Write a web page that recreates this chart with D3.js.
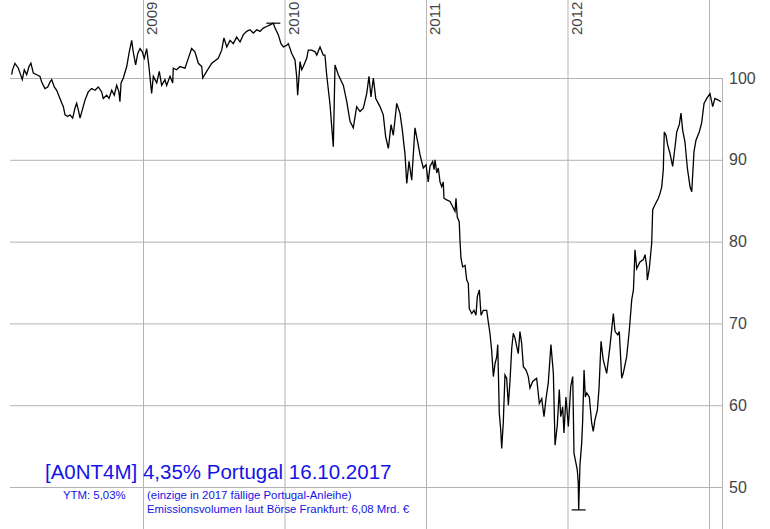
<!DOCTYPE html>
<html>
<head>
<meta charset="utf-8">
<script src="https://cdn.jsdelivr.net/npm/d3@7"></script>
<style>
  body { margin: 0; background: #fff; }
  svg { display: block; font-family: "Liberation Sans", Arial, sans-serif; }
</style>
</head>
<body>
<div id="chart"></div>
<script>
const width = 770;
const height = 529;

// price points as [decimal year, price]
const series2008 = [[2008.072,100.4],[2008.078,101.0],[2008.095,101.8],[2008.119,101.2],[2008.131,100.6],[2008.147,99.8],[2008.161,101.0],[2008.178,100.4],[2008.194,101.4],[2008.208,101.8],[2008.225,100.6],[2008.249,100.4],[2008.272,100.2],[2008.284,99.5],[2008.307,98.7],[2008.327,98.9],[2008.343,99.5],[2008.355,99.8],[2008.373,98.9],[2008.390,98.5],[2008.413,97.5],[2008.437,96.5],[2008.449,95.5],[2008.468,95.3],[2008.484,95.5],[2008.503,95.1],[2008.519,96.3],[2008.531,96.9],[2008.543,96.1],[2008.555,95.1],[2008.571,96.1],[2008.590,97.3],[2008.613,98.3],[2008.637,98.7],[2008.661,98.5],[2008.684,98.9],[2008.708,98.3],[2008.719,97.5],[2008.743,97.9],[2008.760,97.5],[2008.779,98.5],[2008.797,97.9],[2008.814,99.1],[2008.830,98.3],[2008.837,97.1],[2008.845,99.4],[2008.861,100.0],[2008.885,101.4],[2008.901,103.0],[2008.920,104.6],[2008.931,103.2],[2008.948,101.6],[2008.963,103.0],[2008.979,103.6],[2008.995,103.2]];
const series2009 = [[2009.009,102.4],[2009.026,103.6],[2009.042,101.4],[2009.061,98.1],[2009.073,100.2],[2009.097,99.4],[2009.115,100.8],[2009.132,99.1],[2009.155,99.8],[2009.167,99.1],[2009.191,100.2],[2009.210,99.4],[2009.214,101.2],[2009.238,101.0],[2009.261,101.4],[2009.297,101.2],[2009.320,102.4],[2009.344,103.6],[2009.367,103.2],[2009.391,101.8],[2009.415,101.4],[2009.422,100.0],[2009.450,100.8],[2009.486,101.8],[2009.532,102.4],[2009.556,103.4],[2009.572,104.9],[2009.592,103.8],[2009.615,104.6],[2009.638,104.2],[2009.662,105.0],[2009.686,104.4],[2009.709,105.3],[2009.733,105.7],[2009.756,105.9],[2009.780,105.5],[2009.804,105.9],[2009.827,105.7],[2009.850,106.1],[2009.874,106.3],[2009.898,106.5],[2009.921,106.7],[2009.933,106.1],[2009.956,105.3],[2009.975,104.2],[2009.992,103.8]];
const series2010 = [[2010.016,104.0],[2010.027,104.2],[2010.051,103.0],[2010.074,102.2],[2010.086,100.2],[2010.093,97.9],[2010.110,102.0],[2010.122,101.0],[2010.133,101.4],[2010.157,102.4],[2010.168,103.4],[2010.192,103.4],[2010.216,103.2],[2010.228,102.8],[2010.251,103.8],[2010.274,102.8],[2010.286,102.8],[2010.298,100.4],[2010.322,96.7],[2010.334,94.0],[2010.345,91.6],[2010.357,101.6],[2010.380,100.4],[2010.416,99.1],[2010.440,97.1],[2010.463,94.7],[2010.486,93.9],[2010.510,96.5],[2010.534,95.9],[2010.557,96.3],[2010.581,98.1],[2010.597,100.2],[2010.611,97.7],[2010.628,100.0],[2010.645,97.5],[2010.675,96.5],[2010.698,95.5],[2010.715,92.8],[2010.734,91.4],[2010.753,94.3],[2010.769,93.0],[2010.793,96.9],[2010.816,95.7],[2010.833,93.6],[2010.852,90.6],[2010.864,87.1],[2010.880,89.8],[2010.899,87.5],[2010.922,93.9],[2010.941,92.2],[2010.958,90.6],[2010.981,89.0]];
const series2011 = [[2011.000,89.4],[2011.016,87.3],[2011.028,89.2],[2011.047,89.8],[2011.057,88.8],[2011.064,90.0],[2011.076,88.4],[2011.087,89.0],[2011.099,87.3],[2011.111,86.7],[2011.122,87.3],[2011.127,85.3],[2011.146,85.1],[2011.170,84.9],[2011.193,84.1],[2011.205,83.7],[2011.212,85.3],[2011.221,83.0],[2011.235,82.4],[2011.240,80.2],[2011.247,78.0],[2011.259,76.9],[2011.276,77.1],[2011.288,75.3],[2011.299,74.9],[2011.306,71.8],[2011.323,71.2],[2011.339,71.6],[2011.353,71.0],[2011.363,73.3],[2011.377,74.1],[2011.389,71.0],[2011.405,71.6],[2011.429,71.6],[2011.440,70.2],[2011.452,68.8],[2011.464,66.7],[2011.476,63.5],[2011.488,65.1],[2011.500,65.9],[2011.507,67.4],[2011.518,59.0],[2011.528,57.0],[2011.535,54.7],[2011.546,57.8],[2011.558,63.7],[2011.570,63.3],[2011.582,60.0],[2011.594,63.1],[2011.606,67.0],[2011.617,68.8],[2011.629,68.2],[2011.641,67.2],[2011.652,66.3],[2011.664,69.0],[2011.676,67.6],[2011.688,64.7],[2011.707,64.3],[2011.723,63.5],[2011.735,62.1],[2011.754,62.9],[2011.782,63.3],[2011.801,60.2],[2011.818,60.8],[2011.834,58.6],[2011.848,60.8],[2011.864,62.7],[2011.883,67.4],[2011.900,63.9],[2011.912,55.1],[2011.928,57.6],[2011.942,61.9],[2011.952,58.6],[2011.966,59.8],[2011.975,56.6],[2011.989,61.0]];
const series2012 = [[2012.006,57.4],[2012.023,62.3],[2012.037,63.5],[2012.046,54.1],[2012.060,52.9],[2012.069,52.1],[2012.076,50.5],[2012.079,47.2],[2012.088,52.7],[2012.100,55.3],[2012.107,58.0],[2012.117,64.3],[2012.126,61.0],[2012.136,61.5],[2012.154,61.0],[2012.171,57.8],[2012.182,56.8],[2012.194,58.2],[2012.211,59.4],[2012.223,62.1],[2012.237,67.8],[2012.253,65.5],[2012.277,63.9],[2012.300,67.2],[2012.324,71.2],[2012.336,69.0],[2012.355,68.6],[2012.366,69.0],[2012.383,63.3],[2012.394,63.9],[2012.418,65.9],[2012.437,69.2],[2012.454,72.9],[2012.466,74.1],[2012.477,79.0],[2012.489,76.7],[2012.512,77.5],[2012.536,77.8],[2012.548,78.4],[2012.560,76.9],[2012.564,75.3],[2012.578,76.7],[2012.595,79.8],[2012.602,83.9],[2012.618,84.5],[2012.642,85.3],[2012.654,85.9],[2012.666,86.7],[2012.677,88.8],[2012.684,93.4],[2012.696,93.0],[2012.708,91.8],[2012.724,90.8],[2012.743,89.2],[2012.760,91.6],[2012.772,93.4],[2012.790,94.3],[2012.802,95.7],[2012.814,93.6],[2012.830,92.2],[2012.847,89.0],[2012.866,86.7],[2012.878,86.1],[2012.894,91.0],[2012.908,92.4],[2012.931,93.4],[2012.948,94.5],[2012.965,96.9],[2012.984,97.5]];
const series2013 = [[2013.007,98.1],[2013.026,96.5],[2013.042,97.5],[2013.066,97.3],[2013.083,97.1]];

const yearGrid = [2009, 2010, 2011, 2012, 2013];
const yearLabels = [2009, 2010, 2011, 2012];
const priceTicks = [50, 60, 70, 80, 90, 100];

const titleText = "[A0NT4M] 4,35% Portugal 16.10.2017";
const ytmText = "YTM: 5,03%";
const noteLines = ["(einzige in 2017 fällige Portugal-Anleihe)", "Emissionsvolumen laut Börse Frankfurt: 6,08 Mrd. €"];

const data = [].concat(series2008, series2009, series2010, series2011, series2012, series2013)
    .map(d => ({ t: d[0], v: d[1] }));

const gridRight = 722, gridLeft = 10;
const x = d3.scaleLinear().domain([2008, 2013]).range([1.5, 709]);
const y = d3.scaleLinear().domain([50, 100]).range([487, 78]);

const svg = d3.select("#chart").append("svg")
    .attr("width", width)
    .attr("height", height)
    .attr("viewBox", [0, 0, width, height]);

const gridColor = "#b3b3b3";

// horizontal grid
const gy = svg.append("g")
    .attr("transform", `translate(${gridRight},0)`)
    .call(d3.axisLeft(y).tickValues(priceTicks).tickSize(gridRight - gridLeft).tickFormat(""));
gy.select(".domain").remove();
gy.selectAll(".tick line").attr("stroke", gridColor);

// vertical grid
const gx = svg.append("g")
    .call(d3.axisBottom(x).tickValues(yearGrid).tickSize(height).tickFormat(""));
gx.select(".domain").remove();
gx.selectAll(".tick line").attr("stroke", gridColor);

// right frame
svg.append("line")
    .attr("x1", gridRight + 0.5).attr("x2", gridRight + 0.5)
    .attr("y1", y(100)).attr("y2", height)
    .attr("stroke", gridColor);

// price labels on the right
const yl = svg.append("g")
    .attr("transform", `translate(${gridRight},0)`)
    .call(d3.axisRight(y).tickValues(priceTicks).tickSize(0).tickPadding(7));
yl.select(".domain").remove();
yl.selectAll("text")
    .attr("font-family", "Liberation Sans, Arial, sans-serif")
    .attr("font-size", 16)
    .attr("fill", "#444");

// year labels, rotated
svg.append("g").selectAll("text")
    .data(yearLabels)
    .join("text")
    .attr("transform", d => `translate(${x(d) + 14},35) rotate(-90)`)
    .attr("font-size", 15)
    .attr("fill", "#444")
    .text(d => d);

// price line
svg.append("path")
    .datum(data)
    .attr("fill", "none")
    .attr("stroke", "#000")
    .attr("stroke-width", 1.3)
    .attr("d", d3.line().x(d => x(d.t)).y(d => y(d.v)));

// high / low markers
const hi = d3.greatest(data, d => d.v);
const lo = d3.least(data, d => d.v);
[hi, lo].forEach(d => {
    svg.append("line")
        .attr("x1", x(d.t) - 7).attr("x2", x(d.t) + 7)
        .attr("y1", y(d.v)).attr("y2", y(d.v))
        .attr("stroke", "#000").attr("stroke-width", 1.2);
});

// caption
const blue = "#1414e6";
svg.append("text")
    .attr("x", 45).attr("y", 479)
    .attr("font-size", 20.5)
    .attr("fill", blue)
    .text(titleText);

svg.append("text")
    .attr("x", 63).attr("y", 499)
    .attr("font-size", 11.4)
    .attr("fill", blue)
    .text(ytmText);

svg.append("g").selectAll("text")
    .data(noteLines)
    .join("text")
    .attr("x", 147)
    .attr("y", (d, i) => 499 + i * 14)
    .attr("font-size", 11.4)
    .attr("fill", blue)
    .text(d => d);
</script>
</body>
</html>
